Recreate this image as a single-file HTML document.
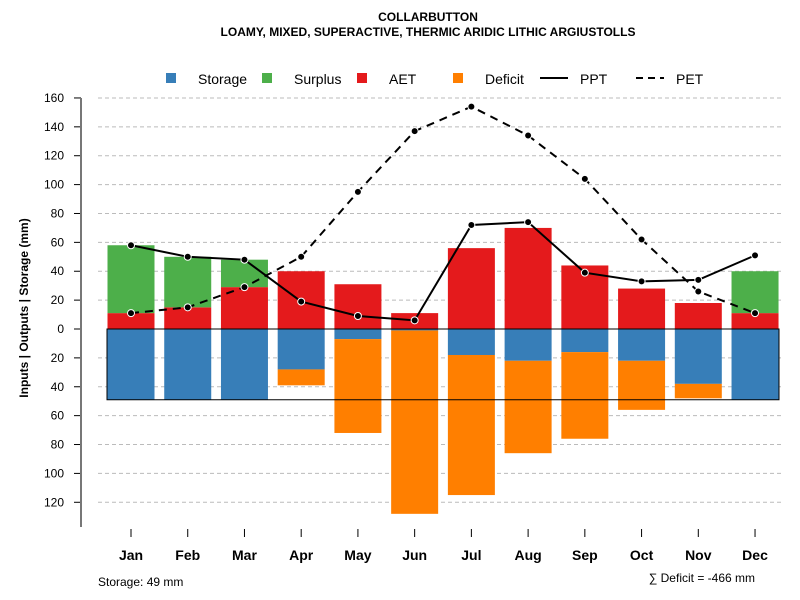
<!DOCTYPE html>
<html><head><meta charset="utf-8"><style>
body{margin:0;background:#fff;}
svg{display:block;font-family:"Liberation Sans",Arial,sans-serif;}
</style></head><body>
<svg id="chart" width="800" height="600" viewBox="0 0 800 600">
<text x="428" y="21" text-anchor="middle" font-size="12" font-weight="bold">COLLARBUTTON</text>
<text x="428" y="36" text-anchor="middle" font-size="12" font-weight="bold">LOAMY, MIXED, SUPERACTIVE, THERMIC ARIDIC LITHIC ARGIUSTOLLS</text>
<g id="legend" font-size="14">
<rect x="166" y="73" width="10" height="10" fill="#377eb8"/><text x="198" y="84">Storage</text>
<rect x="262" y="73" width="10" height="10" fill="#4daf4a"/><text x="294" y="84">Surplus</text>
<rect x="357" y="73" width="10" height="10" fill="#e41a1c"/><text x="389" y="84">AET</text>
<rect x="453" y="73" width="10" height="10" fill="#ff7f00"/><text x="485" y="84">Deficit</text>
<line x1="540" y1="78" x2="568" y2="78" stroke="#000" stroke-width="2"/><text x="580" y="84">PPT</text>
<line x1="636" y1="78" x2="664" y2="78" stroke="#000" stroke-width="2" stroke-dasharray="7,5"/><text x="676" y="84">PET</text>
</g>
<text transform="translate(28,308) rotate(-90)" text-anchor="middle" font-size="12" font-weight="bold">Inputs | Outputs | Storage    (mm)</text>
<g id="grid"></g><g id="bars"></g><g id="lines"></g><g id="axes"></g>
<text x="98" y="586" font-size="12">Storage: 49 mm</text>
<text x="755" y="582" text-anchor="end" font-size="12">∑ Deficit = -466 mm</text>
</svg>
<script>
const months=["Jan","Feb","Mar","Apr","May","Jun","Jul","Aug","Sep","Oct","Nov","Dec"];
const ppt=[58,50,48,19,9,6,72,74,39,33,34,51];
const pet=[11,15,29,50,95,137,154,134,104,62,26,11];
const aet=[11,15,29,40,31,11,56,70,44,28,18,11];
const surplus=[47,35,19,0,0,0,0,0,0,0,0,29];
const storage=[49,49,49,28,7,1,18,22,16,22,38,49];
const deficit=[0,0,0,11,65,127,97,64,60,34,10,0];
const yTicks=[160,140,120,100,80,60,40,20,0,-20,-40,-60,-80,-100,-120];
const maxStorage=49;
const NS="http://www.w3.org/2000/svg";
const y=v=>329-v*1.444;
const x=i=>131+i*56.73;
const bw=47;
function mk(tag,attrs,parent){const e=document.createElementNS(NS,tag);for(const k in attrs)e.setAttribute(k,attrs[k]);parent.appendChild(e);return e;}
const grid=document.getElementById('grid'),bars=document.getElementById('bars'),lines=document.getElementById('lines'),axes=document.getElementById('axes');
yTicks.forEach(t=>{
 if(t!==0){const g=mk('line',{x1:98,x2:782,y1:y(t),y2:y(t),stroke:'#bbb','stroke-dasharray':'4,3'},grid);
 
 }
 const tk=mk('line',{x1:74,x2:81,y1:y(t),y2:y(t),stroke:'#000'},axes);
 
 
 const lb=mk('text',{x:64,y:y(t)+4,'text-anchor':'end','font-size':12},axes);lb.textContent=Math.abs(t);
 
 
});
const ax=mk('line',{x1:81,x2:81,y1:98,y2:527,stroke:'#777','stroke-width':2},axes);


months.forEach((m,i)=>{
 const cx=x(i),l=cx-bw/2;
 const r1=mk('rect',{x:l,y:y(aet[i]),width:bw,height:y(0)-y(aet[i]),fill:'#e41a1c'},bars);
 
 
 if(surplus[i]>0){const r=mk('rect',{x:l,y:y(aet[i]+surplus[i]),width:bw,height:surplus[i]*1.444,fill:'#4daf4a'},bars);
 
 }
 const r2=mk('rect',{x:l,y:y(0),width:bw,height:storage[i]*1.444,fill:'#377eb8'},bars);
 
 
 if(deficit[i]>0){const r=mk('rect',{x:l,y:y(-storage[i]),width:bw,height:deficit[i]*1.444,fill:'#ff7f00'},bars);
 
 }
 const tk=mk('line',{x1:cx,x2:cx,y1:529,y2:537,stroke:'#000'},axes);
 
 
 const lb=mk('text',{x:cx,y:560,'text-anchor':'middle','font-size':14,'font-weight':'bold'},axes);lb.textContent=m;
 
 
});
const box=mk('rect',{x:107,y:y(0),width:672,height:maxStorage*1.444,fill:'none',stroke:'#000','stroke-width':1},bars);


function series(vals,dash,name){
 const p=mk('polyline',{points:vals.map((v,i)=>x(i)+','+y(v)).join(' '),fill:'none',stroke:'#000','stroke-width':2,'stroke-dasharray':dash},lines);
 
 
 vals.forEach((v,i)=>{const c=mk('circle',{cx:x(i),cy:y(v),r:3.5,fill:'#000',stroke:'#fff','stroke-width':1},lines);
 
 });
}
series(pet,'8,6','pet');
series(ppt,'none','ppt');
</script>
</body></html>
